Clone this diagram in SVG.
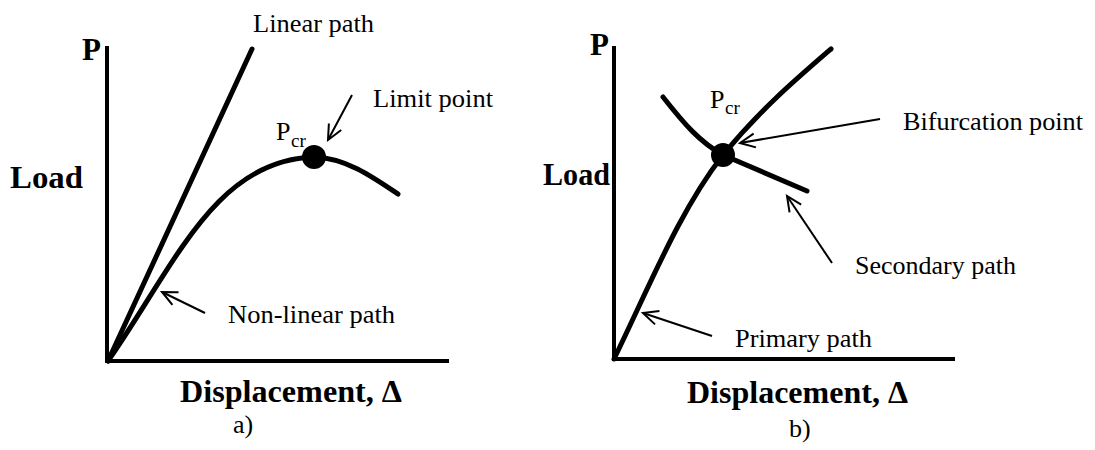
<svg xmlns="http://www.w3.org/2000/svg" width="1095" height="450" viewBox="0 0 1095 450">
<style>
.axis{stroke:#000;stroke-width:4;fill:none;stroke-linecap:square}
.curve{stroke:#000;stroke-width:5;fill:none;stroke-linecap:round}
.arr{stroke:#000;stroke-width:2;fill:none;marker-end:url(#oa)}
.lbl{font-family:"Liberation Serif","Times New Roman",serif;font-size:26px;fill:#000}
.bold{font-family:"Liberation Serif","Times New Roman",serif;font-weight:bold;font-size:31px;fill:#000}
.sub{font-family:"Liberation Serif","Times New Roman",serif;font-size:19px;fill:#000}
.dot{fill:#000}
</style>
<defs>
<marker id="oa" markerUnits="userSpaceOnUse" viewBox="-16 -8 18 16" refX="0" refY="0" markerWidth="18" markerHeight="16" orient="auto" overflow="visible">
<path d="M-15,-7 L0,0 L-15,7" fill="none" stroke="#000" stroke-width="2"/>
</marker>
</defs>
<rect width="1095" height="450" fill="#fff"/>
<g id="panel-a">
<g id="axes-a">
<path class="axis" d="M107,48 L107,361 L447,361"/>
<text class="bold" x="82" y="60" font-size="26">P</text>
<text class="bold" x="10" y="188" textLength="73" lengthAdjust="spacingAndGlyphs">Load</text>
<text class="bold" x="180" y="402" textLength="222" lengthAdjust="spacingAndGlyphs">Displacement, Δ</text>
<text class="lbl" x="233" y="433" font-size="28">a)</text>
</g>
<g id="linear-path">
<path class="curve" d="M108,361 L252,49"/>
<text class="lbl" x="253" y="32" textLength="121" lengthAdjust="spacingAndGlyphs">Linear path</text>
</g>
<g id="nonlinear-path">
<path class="curve" d="M108,361 C175,265 215,160 314,157 C345,158 370,175 398,194"/>
<text class="lbl" x="228" y="323" textLength="167" lengthAdjust="spacingAndGlyphs">Non-linear path</text>
</g>
<g id="limit-point">
<circle class="dot" cx="314" cy="157" r="12"/>
<text class="lbl" x="276" y="140" font-size="27">P</text>
<text class="sub" x="291" y="147">cr</text>
<text class="lbl" x="373" y="107" textLength="120" lengthAdjust="spacingAndGlyphs">Limit point</text>
</g>
</g>
<g id="panel-b">
<g id="axes-b">
<path class="axis" d="M614,48 L614,359 L953,359"/>
<text class="bold" x="590" y="55" font-size="26">P</text>
<text class="bold" x="543" y="185" textLength="67" lengthAdjust="spacingAndGlyphs">Load</text>
<text class="bold" x="687" y="403" textLength="221" lengthAdjust="spacingAndGlyphs">Displacement, Δ</text>
<text class="lbl" x="789" y="437" font-size="28">b)</text>
</g>
<g id="primary-path">
<path class="curve" d="M614,359 C650,285 680,210 723,155 C760,110 795,80 831,49"/>
<text class="lbl" x="735" y="347" textLength="137" lengthAdjust="spacingAndGlyphs">Primary path</text>
</g>
<g id="secondary-path">
<path class="curve" d="M663,97 C685,125 700,142 723,155 L807,191"/>
<text class="lbl" x="855" y="274">Secondary path</text>
</g>
<g id="bifurcation-point">
<circle class="dot" cx="723" cy="155" r="12"/>
<text class="lbl" x="710" y="108" font-size="27">P</text>
<text class="sub" x="725" y="114">cr</text>
<text class="lbl" x="903" y="130" textLength="180" lengthAdjust="spacingAndGlyphs">Bifurcation point</text>
</g>
</g>
<g id="connectors">
<path class="arr" d="M352,95 L328,140"/>
<path class="arr" d="M205,313 L162,292"/>
<path class="arr" d="M880,119 L740,143"/>
<path class="arr" d="M832,263 L787,196"/>
<path class="arr" d="M712,336 L643,313"/>
</g>
</svg>
